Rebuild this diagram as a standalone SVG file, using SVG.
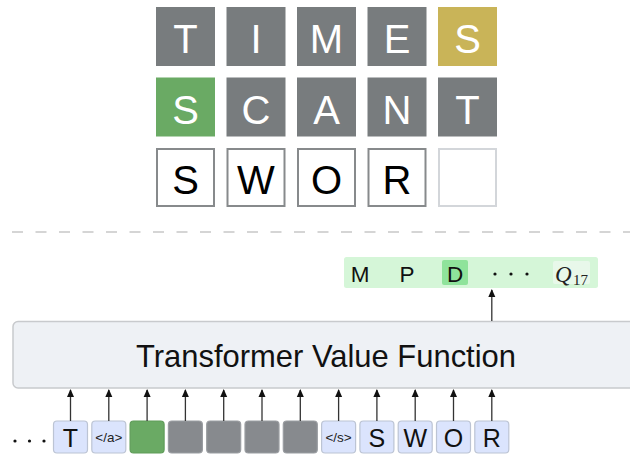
<svg xmlns="http://www.w3.org/2000/svg" width="630" height="455" viewBox="0 0 630 455">
<defs>
<style>
.tile{stroke:none}
.gray{fill:#787c7e}
.yellow{fill:#c9b458}
.green{fill:#6aaa64}
.empty{fill:#ffffff;stroke:#878a8c;stroke-width:2}
.blank{fill:#ffffff;stroke:#d3d6da;stroke-width:2}
.tl{font-family:"Liberation Sans",Arial,sans-serif;font-size:40px;text-anchor:middle;fill:#ffffff}
.tl.dark{fill:#000000}
.tok{stroke-width:1.2}
.tok.light{fill:#dbe4fd;stroke:#bcc4d4}
.tok.g{fill:#6aaa64;stroke:#5f9c59}
.tok.gr{fill:#878a8e;stroke:#9a9da1}
.tt{font-family:"Liberation Sans",Arial,sans-serif;font-size:25px;text-anchor:middle;fill:#111}
.ts{font-family:"Liberation Sans",Arial,sans-serif;font-size:13.5px;text-anchor:middle;fill:#222}
.conn{stroke:#333;stroke-width:1.3;fill:none;marker-end:url(#ah)}
.q{font-family:"Liberation Sans",Arial,sans-serif;font-size:22.5px;text-anchor:middle;fill:#111}
</style>
<marker id="ah" viewBox="0 0 8 8" refX="7" refY="4" markerWidth="8" markerHeight="8" markerUnits="userSpaceOnUse" orient="auto">
<path d="M0,0.5 L8,4 L0,7.5 z" fill="#111"/>
</marker>
</defs>

<g id="wordle-grid">
<g id="row1">
<rect class="tile gray" x="156" y="7" width="59" height="59"/><text class="tl" x="185.5" y="53">T</text>
<rect class="tile gray" x="226.5" y="7" width="59" height="59"/><text class="tl" x="256" y="53">I</text>
<rect class="tile gray" x="297" y="7" width="59" height="59"/><text class="tl" x="326.5" y="53">M</text>
<rect class="tile gray" x="367.5" y="7" width="59" height="59"/><text class="tl" x="397" y="53">E</text>
<rect class="tile yellow" x="438" y="7" width="59" height="59"/><text class="tl" x="467.5" y="53">S</text>
</g>
<g id="row2">
<rect class="tile green" x="156" y="77.5" width="59" height="59"/><text class="tl" x="185.5" y="123.5">S</text>
<rect class="tile gray" x="226.5" y="77.5" width="59" height="59"/><text class="tl" x="256" y="123.5">C</text>
<rect class="tile gray" x="297" y="77.5" width="59" height="59"/><text class="tl" x="326.5" y="123.5">A</text>
<rect class="tile gray" x="367.5" y="77.5" width="59" height="59"/><text class="tl" x="397" y="123.5">N</text>
<rect class="tile gray" x="438" y="77.5" width="59" height="59"/><text class="tl" x="467.5" y="123.5">T</text>
</g>
<g id="row3">
<rect class="empty" x="157" y="149" width="57" height="57"/><text class="tl dark" x="185.5" y="193.5">S</text>
<rect class="empty" x="227.5" y="149" width="57" height="57"/><text class="tl dark" x="256" y="193.5">W</text>
<rect class="empty" x="298" y="149" width="57" height="57"/><text class="tl dark" x="326.5" y="193.5">O</text>
<rect class="empty" x="368.5" y="149" width="57" height="57"/><text class="tl dark" x="397" y="193.5">R</text>
<rect class="blank" x="439" y="149" width="57" height="57"/>
</g>
</g>

<line id="divider" x1="12" y1="232" x2="630" y2="232" stroke="#c8c8c8" stroke-width="1.5" stroke-dasharray="11 12.5"/>

<g id="q-values">
<rect x="344" y="257" width="254" height="31" rx="2.5" fill="#d5f6d8"/>
<rect x="442" y="260" width="26" height="25" rx="2" fill="#8fe39b"/>
<rect x="553" y="261" width="37" height="23" rx="2" fill="#e8f8ea"/>
<text class="q" x="360" y="282">M</text>
<text class="q" x="407" y="282">P</text>
<text class="q" x="455" y="282">D</text>
<circle cx="495" cy="274" r="1.6" fill="#111"/>
<circle cx="511" cy="274" r="1.6" fill="#111"/>
<circle cx="527" cy="274" r="1.6" fill="#111"/>
<text x="555" y="282" font-family="'Liberation Serif','Times New Roman',serif" font-style="italic" font-size="23" fill="#222">Q</text>
<text x="573" y="285" font-family="'Liberation Serif','Times New Roman',serif" font-size="15" fill="#222">17</text>
</g>

<g id="transformer">
<rect x="13" y="321.5" width="630" height="66.5" rx="5" fill="#eef1f5" stroke="#c8cacd" stroke-width="1.5"/>
<text x="326" y="367" font-family="'Liberation Sans',Arial,sans-serif" font-size="32" text-anchor="middle" fill="#111" textLength="380" lengthAdjust="spacingAndGlyphs">Transformer Value Function</text>
</g>

<g id="ellipsis">
<circle cx="15" cy="441" r="1.6" fill="#111"/>
<circle cx="29.5" cy="441" r="1.6" fill="#111"/>
<circle cx="44" cy="441" r="1.6" fill="#111"/>
</g>

<g id="tokens">
<g id="tok0"><rect class="tok light" x="53.5" y="421" width="34" height="32" rx="3.5"/><text class="tt" x="70.5" y="447">T</text></g>
<g id="tok1"><rect class="tok light" x="91.8" y="421" width="34" height="32" rx="3.5"/><text class="ts" x="108.8" y="442">&lt;/a&gt;</text></g>
<g id="tok2"><rect class="tok g" x="130.1" y="421" width="34" height="32" rx="3.5"/></g>
<g id="tok3"><rect class="tok gr" x="168.4" y="421" width="34" height="32" rx="3.5"/></g>
<g id="tok4"><rect class="tok gr" x="206.7" y="421" width="34" height="32" rx="3.5"/></g>
<g id="tok5"><rect class="tok gr" x="245" y="421" width="34" height="32" rx="3.5"/></g>
<g id="tok6"><rect class="tok gr" x="283.3" y="421" width="34" height="32" rx="3.5"/></g>
<g id="tok7"><rect class="tok light" x="321.6" y="421" width="34" height="32" rx="3.5"/><text class="ts" x="338.6" y="442">&lt;/s&gt;</text></g>
<g id="tok8"><rect class="tok light" x="359.9" y="421" width="34" height="32" rx="3.5"/><text class="tt" x="376.9" y="447">S</text></g>
<g id="tok9"><rect class="tok light" x="398.2" y="421" width="34" height="32" rx="3.5"/><text class="tt" x="415.2" y="447">W</text></g>
<g id="tok10"><rect class="tok light" x="436.5" y="421" width="34" height="32" rx="3.5"/><text class="tt" x="453.5" y="447">O</text></g>
<g id="tok11"><rect class="tok light" x="474.8" y="421" width="34" height="32" rx="3.5"/><text class="tt" x="491.8" y="447">R</text></g>
</g>

<g id="connectors">
<line class="conn" x1="70.5" y1="421" x2="70.5" y2="390"/>
<line class="conn" x1="108.8" y1="421" x2="108.8" y2="390"/>
<line class="conn" x1="147.1" y1="421" x2="147.1" y2="390"/>
<line class="conn" x1="185.4" y1="421" x2="185.4" y2="390"/>
<line class="conn" x1="223.7" y1="421" x2="223.7" y2="390"/>
<line class="conn" x1="262" y1="421" x2="262" y2="390"/>
<line class="conn" x1="300.3" y1="421" x2="300.3" y2="390"/>
<line class="conn" x1="338.6" y1="421" x2="338.6" y2="390"/>
<line class="conn" x1="376.9" y1="421" x2="376.9" y2="390"/>
<line class="conn" x1="415.2" y1="421" x2="415.2" y2="390"/>
<line class="conn" x1="453.5" y1="421" x2="453.5" y2="390"/>
<line class="conn" x1="491.8" y1="421" x2="491.8" y2="390"/>
<line class="conn" x1="491.8" y1="321" x2="491.8" y2="290"/>
</g>
</svg>
